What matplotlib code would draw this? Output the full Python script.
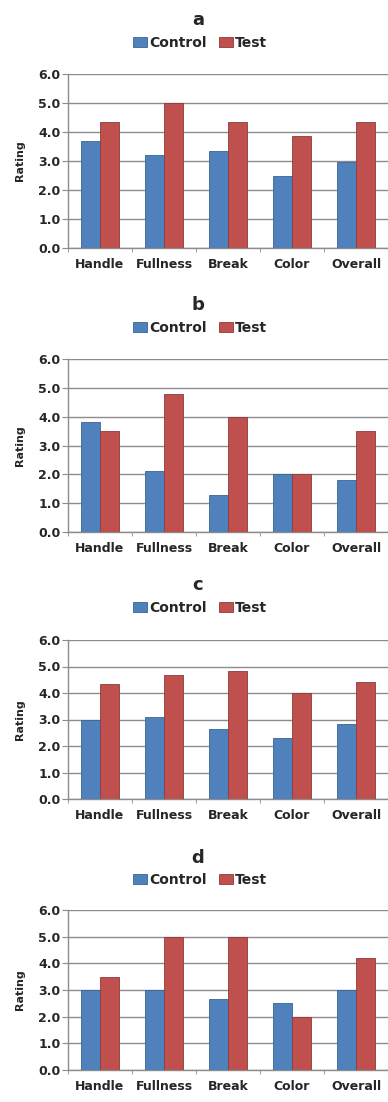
import matplotlib.pyplot as plt
import numpy as np

plt.rcParams['font.family'] = ['DejaVu Sans']
plt.rcParams['font.weight'] = 'bold'

categories = ['Handle', 'Fullness', 'Break', 'Color', 'Overall']
panel_names = ['a', 'b', 'c', 'd']

control_a = [3.7, 3.2, 3.33, 2.5, 2.95]
test_a = [4.33, 5.0, 4.33, 3.85, 4.33]
control_b = [3.83, 2.1, 1.3, 2.0, 1.8]
test_b = [3.5, 4.8, 4.0, 2.0, 3.5]
control_c = [3.0, 3.1, 2.63, 2.3, 2.83]
test_c = [4.33, 4.67, 4.83, 4.0, 4.4]
control_d = [3.0, 3.0, 2.65, 2.5, 3.0]
test_d = [3.5, 5.0, 5.0, 2.0, 4.2]

controls = [control_a, control_b, control_c, control_d]
tests = [test_a, test_b, test_c, test_d]

W, H = 388, 1102
# (axes top, axes bottom, title y, legend y) in pixels from the top
rows = [(74, 248, 20, 43), (359, 532, 305, 328), (640, 799, 585, 608), (910, 1070, 858, 880)]

blue, blue_edge = '#4F81BD', '#3A6392'
red, red_edge = '#C0504D', '#8E3B39'
text_col = '#262626'
grid_col = '#8C8C8C'

fig = plt.figure(figsize=(W / 100, H / 100), dpi=100)

x = np.arange(len(categories))
w = 0.29

for name, ctrl, tst, (top, bot, ty, ly) in zip(panel_names, controls, tests, rows):
    ax = fig.add_axes([68 / W, 1 - bot / H, 320 / W, (bot - top) / H])
    b1 = ax.bar(x - w / 2, ctrl, w, color=blue, edgecolor=blue_edge, linewidth=0.6, zorder=3, label='Control')
    b2 = ax.bar(x + w / 2, tst, w, color=red, edgecolor=red_edge, linewidth=0.6, zorder=3, label='Test')

    ax.set_xlim(-0.5, 4.5)
    ax.set_ylim(0, 6)
    ax.set_yticks(np.arange(0, 7, 1))
    ax.set_yticklabels(['%.1f' % v for v in range(7)])
    ax.set_xticks(x)
    ax.set_xticklabels(categories)
    ax.set_xticks(np.arange(-0.5, 5, 1), minor=True)
    ax.yaxis.grid(True, color=grid_col, linewidth=1.0, zorder=0)
    for s in ['top', 'right']:
        ax.spines[s].set_visible(False)
    for s in ['left', 'bottom']:
        ax.spines[s].set_color(grid_col)
        ax.spines[s].set_linewidth(1.0)
    ax.tick_params(axis='x', which='major', length=0, pad=7, labelsize=9, colors=text_col)
    ax.tick_params(axis='x', which='minor', length=3, color=grid_col)
    ax.tick_params(axis='y', length=4, color=grid_col, pad=1.5, labelsize=9, labelcolor=text_col)
    ax.set_ylabel('Rating', fontsize=8, fontweight='bold', color=text_col)
    ax.yaxis.set_label_coords(-0.134, 0.5)

    fig.text(198 / W, 1 - ty / H, name, ha='center', va='center', fontsize=13, color=text_col)
    fig.legend(handles=[b1, b2], loc='center', bbox_to_anchor=(200 / W, 1 - ly / H), ncol=2,
               frameon=False, fontsize=10, handlelength=1.0, handleheight=0.7,
               handletextpad=0.15, columnspacing=0.9, labelcolor=text_col,
               borderpad=0, borderaxespad=0)

fig.savefig('out.png', dpi=100)
